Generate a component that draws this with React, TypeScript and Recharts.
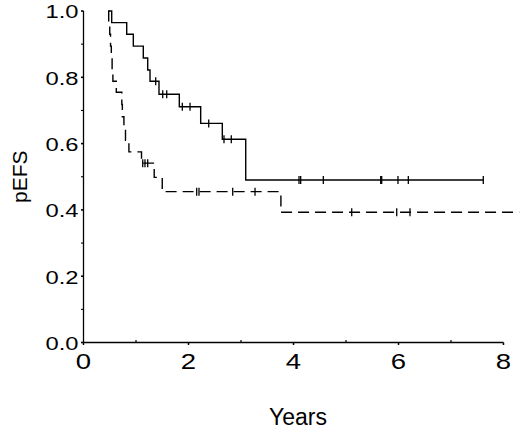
import React from 'react';
import { ComposedChart, Line, Scatter, XAxis, YAxis, ReferenceLine, Label } from 'recharts';

if (typeof document !== 'undefined') document.body.style.margin = '0';

// Solid curve (group 1): step times and survival after each step
const solidTimes = [0.472, 0.537, 0.823, 0.949, 1.139, 1.223, 1.267, 1.438, 1.825, 2.232, 2.644, 3.09, 7.615];
const solidSurv = [1.0, 0.965, 0.93, 0.894, 0.858, 0.822, 0.788, 0.749, 0.711, 0.661, 0.613, 0.49, 0.49];
const solidCensored = [1.375, 1.509, 1.585, 1.882, 2.029, 2.385, 2.676, 2.815, 4.105, 4.137, 4.568, 5.661, 5.68, 5.99, 6.187, 7.615];

// Dashed curve (group 2)
const dashedTimes = [0.472, 0.48, 0.5, 0.515, 0.53, 0.545, 0.56, 0.625, 0.73, 0.74, 0.77, 0.8, 0.865, 1.105, 1.347, 1.5, 3.76, 8.3];
const dashedSurv = [1.0, 0.965, 0.93, 0.894, 0.858, 0.822, 0.788, 0.755, 0.718, 0.681, 0.646, 0.61, 0.575, 0.541, 0.498, 0.455, 0.393, 0.393];
const dashedCensored = [1.128, 1.171, 1.223, 2.156, 2.2, 2.842, 3.267, 5.109, 5.966, 6.219];

const xTicks = [0, 1, 2, 3, 4, 5, 6, 7, 8];
const yTicks = [0, 0.1, 0.2, 0.3, 0.4, 0.5, 0.6, 0.7, 0.8, 0.9, 1.0];

const FONT = '"Liberation Sans", Arial, sans-serif';

const toSeries = (ts: number[], ss: number[]) => ts.map((t, i) => ({ t, s: ss[i] }));
const levelAt = (ts: number[], ss: number[], t: number) => {
  let v = ss[0];
  for (let i = 0; i < ts.length; i++) if (ts[i] <= t + 1e-9) v = ss[i];
  return v;
};
const toCensor = (cs: number[], ts: number[], ss: number[]) => cs.map((t) => ({ t, s: levelAt(ts, ss, t) }));

const solidData = toSeries(solidTimes, solidSurv);
const dashedData = toSeries(dashedTimes, dashedSurv);
const solidCensorData = toCensor(solidCensored, solidTimes, solidSurv);
const dashedCensorData = toCensor(dashedCensored, dashedTimes, dashedSurv);

const CensorMark = (props: any) => {
  const { cx, cy } = props;
  if (cx == null || cy == null) return null;
  return <line x1={cx} x2={cx} y1={cy - 4} y2={cy + 4} stroke="#000" strokeWidth={1.3} />;
};

const XTick = (props: any) => {
  const { x, y, payload } = props;
  const v = payload.value;
  if (v % 2 === 0) {
    return (
      <g>
        <line x1={x} x2={x} y1={y} y2={y + 2.5} stroke="#000" strokeWidth={1.5} />
        <text
          transform={`translate(${x},${y + 26}) scale(1.28,1)`}
          x={0}
          y={0}
          textAnchor="middle"
          fontSize={21.5}
          fontFamily={FONT}
          fill="#000"
        >
          {v}
        </text>
      </g>
    );
  }
  return <line x1={x} x2={x} y1={y} y2={y - 2.5} stroke="#000" strokeWidth={1.2} />;
};

const YTick = (props: any) => {
  const { x, y, payload } = props;
  const v = payload.value;
  const major = Math.round(v * 10) % 2 === 0;
  return (
    <g>
      <line x1={x - 2.5} x2={x} y1={y} y2={y} stroke="#000" strokeWidth={major ? 1.6 : 1.1} />
      {major && (
        <text
          transform={`translate(${x - 5},${y + 7.3}) scale(1.25,1)`}
          x={0}
          y={0}
          textAnchor="end"
          fontSize={19}
          fontFamily={FONT}
          fill="#000"
        >
          {v.toFixed(1)}
        </text>
      )}
    </g>
  );
};

export default function App() {
  return (
    <ComposedChart width={520} height={429} margin={{ top: 11, right: 0.75, bottom: 0, left: 0 }}>
      <XAxis
        type="number"
        dataKey="t"
        domain={[0, 8.3]}
        ticks={xTicks}
        axisLine={false}
        tickLine={false}
        tickSize={0}
        tickMargin={0}
        height={86.5}
        tick={<XTick />}
        interval={0}
      >
        <Label
          content={(p: any) => {
            const vb = p.viewBox || { x: 83.5, y: 342.5 };
            return (
              <text x={vb.x + 214.5} y={vb.y + 82.5} textAnchor="middle" fontSize={23} fontFamily={FONT} fill="#000">
                Years
              </text>
            );
          }}
        />
      </XAxis>
      <YAxis
        type="number"
        dataKey="s"
        domain={[0, 1]}
        ticks={yTicks}
        axisLine={{ stroke: '#000', strokeWidth: 1.3 }}
        tickLine={false}
        tickSize={0}
        tickMargin={0}
        width={83.5}
        tick={<YTick />}
        interval={0}
      >
        <Label
          content={(p: any) => {
            const vb = p.viewBox || { x: 0, y: 11, height: 331.5 };
            const cx = vb.x + 19;
            const cy = vb.y + vb.height / 2;
            return (
              <text
                x={cx}
                y={cy}
                transform={`rotate(-90 ${cx} ${cy})`}
                textAnchor="middle"
                dominantBaseline="central"
                fontSize={21}
                fontFamily={FONT}
                fill="#000"
              >
                pEFS
              </text>
            );
          }}
        />
      </YAxis>
      <ReferenceLine segment={[{ x: 0, y: 0 }, { x: 8, y: 0 }]} stroke="#000" strokeWidth={1.3} />
      <Line
        data={solidData}
        dataKey="s"
        type="stepAfter"
        stroke="#000"
        strokeWidth={1.4}
        dot={false}
        activeDot={false}
        isAnimationActive={false}
      />
      <Line
        data={dashedData}
        dataKey="s"
        type="stepAfter"
        stroke="#000"
        strokeWidth={1.4}
        strokeDasharray="11 6"
        dot={false}
        activeDot={false}
        isAnimationActive={false}
      />
      <Scatter data={solidCensorData} dataKey="s" shape={<CensorMark />} isAnimationActive={false} />
      <Scatter data={dashedCensorData} dataKey="s" shape={<CensorMark />} isAnimationActive={false} />
    </ComposedChart>
  );
}
